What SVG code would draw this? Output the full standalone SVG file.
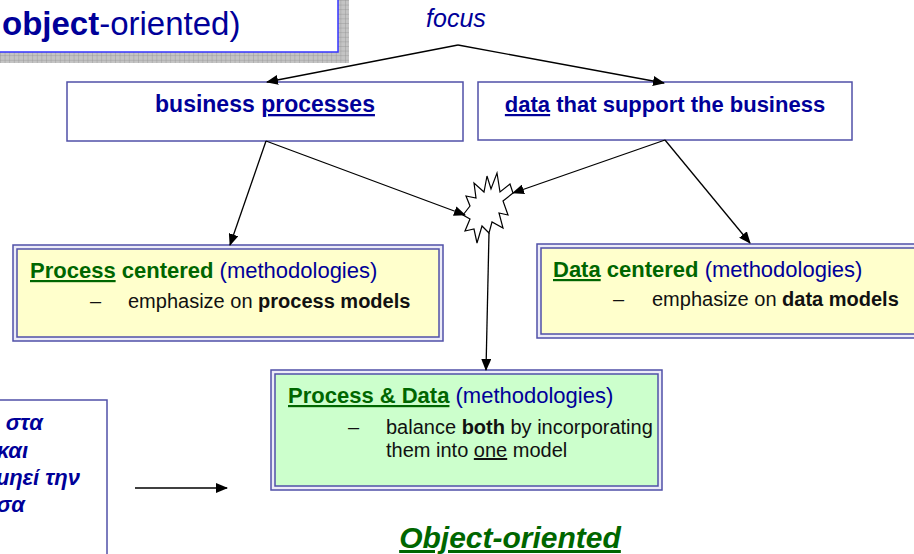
<svg xmlns="http://www.w3.org/2000/svg" width="914" height="554" viewBox="0 0 914 554">
  <style>
    text { font-family: "Liberation Sans", Arial, sans-serif; }
    .blue { fill: #000099; }
    .green { fill: #006600; font-weight: bold; }
    .ink { fill: #111111; }
    .b { font-weight: bold; }
    .u { text-decoration: underline; }
    .box { fill: #ffffff; stroke: #5050a8; stroke-width: 1.5; }
    .dbl-out { fill: #ececf8; stroke: #5050a8; stroke-width: 1.5; }
    .dbl-in-y { fill: #ffffcc; stroke: #5050a8; stroke-width: 1.5; }
    .dbl-in-g { fill: #ccffcc; stroke: #5050a8; stroke-width: 1.5; }
    .conn { fill: none; stroke: #000000; stroke-width: 1.3; }
  </style>
  <defs>
    <pattern id="grid" width="4.6" height="4.6" patternUnits="userSpaceOnUse">
      <rect width="4.6" height="4.6" fill="#c4c4c4"/>
      <path d="M0 0H4.6M0 0V4.6" stroke="#8e8e8e" stroke-width="0.7"/>
    </pattern>
    <marker id="arrow" markerWidth="12" markerHeight="10" refX="11" refY="5" orient="auto" markerUnits="userSpaceOnUse">
      <path d="M0 0L12 5L0 10Z" fill="#000000"/>
    </marker>
  </defs>

  <rect width="914" height="554" fill="#ffffff"/>

  <!-- title banner, partly outside the page -->
  <g id="title">
    <rect x="-20" y="-20" width="369" height="83" fill="url(#grid)"/>
    <rect x="-20" y="-20" width="358" height="72" fill="#ffffff" stroke="#3333ff" stroke-width="1.5"/>
    <text x="2" y="35" font-size="33" class="blue"><tspan class="b">object</tspan>-oriented)</text>
  </g>

  <g id="focus">
    <text x="456" y="27" font-size="25" font-style="italic" text-anchor="middle" class="blue">focus</text>
  </g>

  <g id="business-processes">
    <rect x="67" y="82" width="396" height="59" class="box"/>
    <text x="265" y="112" font-size="23" text-anchor="middle" class="blue b">business <tspan class="u">processes</tspan></text>
  </g>

  <g id="business-data">
    <rect x="478" y="82" width="374" height="58" class="box"/>
    <text x="665" y="112" font-size="22" text-anchor="middle" class="blue b"><tspan class="u">data</tspan> that support the business</text>
  </g>

  <g id="merge-star">
    <polygon fill="#ffffff" stroke="#000000" stroke-width="1.2"
      points="497,173 500,192 510,184 513,193 503,201 508,215 499,213 503,228 492,222 489,233 482,226 477,243 474,229 465,231 470,219 463,215 470,206 466,196 476,198 474,183 484,192 487,176 491,189"/>
  </g>

  <g id="process-centered">
    <rect x="13" y="245" width="430" height="96" class="dbl-out"/>
    <rect x="17" y="249" width="422" height="88" class="dbl-in-y"/>
    <text x="30" y="278" font-size="22"><tspan class="green u">Process</tspan><tspan class="green"> centered </tspan><tspan class="blue">(methodologies)</tspan></text>
    <text x="90" y="308" font-size="20" class="ink">–</text>
    <text x="128" y="308" font-size="20" class="ink">emphasize on <tspan class="b">process models</tspan></text>
  </g>

  <g id="data-centered">
    <rect x="537" y="244" width="400" height="94" class="dbl-out"/>
    <rect x="541" y="248" width="392" height="86" class="dbl-in-y"/>
    <text x="553" y="277" font-size="22"><tspan class="green u">Data</tspan><tspan class="green"> centered </tspan><tspan class="blue">(methodologies)</tspan></text>
    <text x="613" y="306" font-size="20" class="ink">–</text>
    <text x="652" y="306" font-size="20" class="ink">emphasize on <tspan class="b">data models</tspan></text>
  </g>

  <g id="process-and-data">
    <rect x="271" y="370" width="391" height="120" class="dbl-out"/>
    <rect x="275" y="374" width="383" height="112" class="dbl-in-g"/>
    <text x="288" y="403" font-size="22"><tspan class="green u">Process &amp; Data</tspan><tspan class="blue"> (methodologies)</tspan></text>
    <text x="348" y="434" font-size="20" class="ink">–</text>
    <text x="386" y="434" font-size="20" class="ink">balance <tspan class="b">both</tspan> by incorporating</text>
    <text x="386" y="457" font-size="20" class="ink">them into <tspan class="u">one</tspan> model</text>
  </g>

  <g id="object-oriented">
    <text x="510" y="548" font-size="30" font-weight="bold" font-style="italic" text-anchor="middle" class="u" fill="#006600">Object-oriented</text>
  </g>

  <!-- note box, partly outside the page -->
  <g id="note">
    <rect x="-20" y="400" width="127" height="180" class="box"/>
    <g font-size="22" font-weight="bold" font-style="italic" class="blue" text-anchor="end">
      <text x="43" y="430">στα</text>
      <text x="28" y="458">και</text>
      <text x="80" y="485">μηεί την</text>
      <text x="25" y="512">σα</text>
    </g>
  </g>

  <g id="connectors">
    <path class="conn" d="M458 45L267 82" marker-end="url(#arrow)"/>
    <path class="conn" d="M458 45L664 83" marker-end="url(#arrow)"/>
    <path class="conn" d="M266 141L230 245" marker-end="url(#arrow)"/>
    <path class="conn" d="M266 141L465 215" marker-end="url(#arrow)"/>
    <path class="conn" d="M665 140L513 193" marker-end="url(#arrow)"/>
    <path class="conn" d="M665 140L750 243" marker-end="url(#arrow)"/>
    <path class="conn" d="M489 233L486 370" marker-end="url(#arrow)"/>
    <path class="conn" d="M135 488L227 488" marker-end="url(#arrow)"/>
  </g>
</svg>
